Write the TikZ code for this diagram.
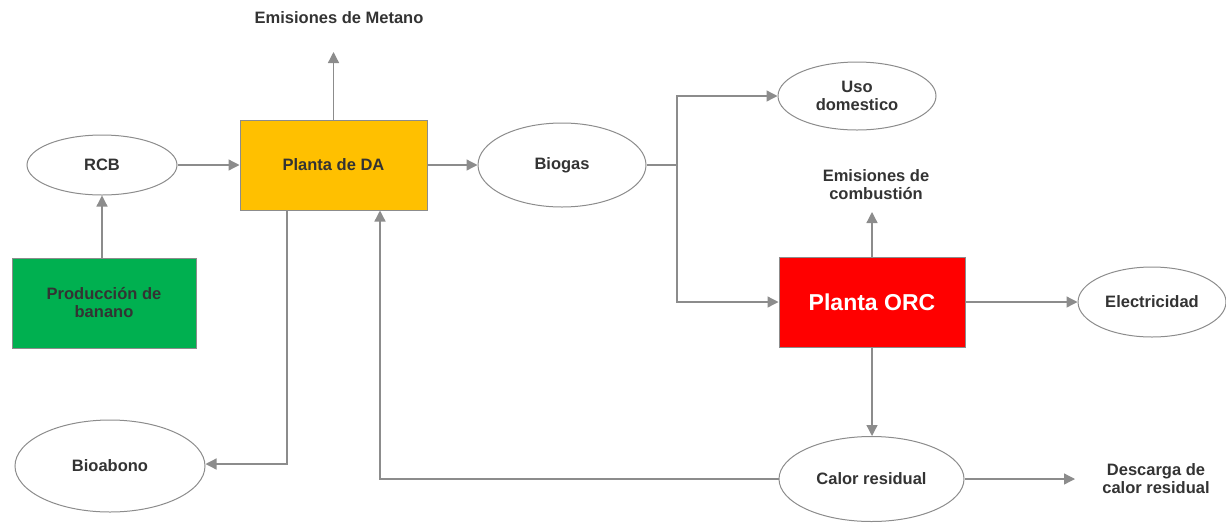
\documentclass[tikz,border=0pt]{standalone}
\usepackage{fontspec}
\setmainfont{Liberation Sans}
\usetikzlibrary{arrows.meta,shapes.geometric}
\definecolor{lc}{HTML}{8C8C8C}
\definecolor{tc}{HTML}{333333}
\definecolor{orangeda}{HTML}{FFC000}
\definecolor{greenb}{HTML}{00B050}
\begin{document}
\begin{tikzpicture}[x=1pt,y=-1pt,
  conn/.style={draw=lc,line width=1.3pt,-{Triangle[length=11pt,width=11pt]}},
  wire/.style={draw=lc,line width=1.3pt},
  ell/.style={ellipse,draw=lc,line width=1pt,fill=white,inner sep=0pt,font=\bfseries\fontsize{16.5}{18}\selectfont,text=tc,align=center},
  box/.style={rectangle,draw=lc,line width=1pt,inner sep=0pt,font=\bfseries\fontsize{16.5}{18}\selectfont,text=tc,align=center},
  lbl/.style={font=\bfseries\fontsize{16.5}{18}\selectfont,text=tc,align=center,inner sep=0pt}]
\useasboundingbox (0,0) rectangle (1226,523);
% nodes
\node[ell,minimum width=150pt,minimum height=60pt] (rcb) at (102,165) {RCB};
\node[box,fill=orangeda,minimum width=187pt,minimum height=90pt] (da) at (333.5,165) {Planta de DA};
\node[ell,minimum width=168pt,minimum height=84pt] (biogas) at (562,165) {Biogas};
\node[box,fill=greenb,minimum width=184pt,minimum height=90pt] (ban) at (104,303) {Producción de\\banano};
\node[ell,minimum width=158pt,minimum height=68pt] (uso) at (857,96) {Uso\\domestico};
\node[box,fill=red,text=white,minimum width=186pt,minimum height=90pt,font=\bfseries\fontsize{23}{26}\selectfont] (orc) at (872,302) {Planta ORC};
\node[ell,minimum width=148pt,minimum height=70pt] (elec) at (1152,302) {Electricidad};
\node[ell,minimum width=185pt,minimum height=85pt] (calor) at (871.5,479) {Calor residual};
\node[ell,minimum width=190pt,minimum height=92pt] (bio) at (110,466) {Bioabono};
\node[lbl] (metano) at (339,18) {Emisiones de Metano};
\node[lbl] (comb) at (876,185) {Emisiones de\\combustión};
\node[lbl] (desc) at (1156,479) {Descarga de\\calor residual};
% helper coordinates
\coordinate (mtop) at (333.5,52);
\coordinate (ctop) at (872,212);
\coordinate (dend) at (1075,479);
\coordinate (split) at (677,165);
% connectors
\draw[conn] (ban.north -| rcb.south) -- (rcb.south);
\draw[conn] (rcb.east) -- (da.west);
\draw[conn] (da.east) -- (biogas.west);
\draw[conn] (da.north) -- (mtop);
\draw[wire] (biogas.east) -- (split);
\draw[conn] (split) |- (uso.west);
\draw[conn] (split) |- (orc.west);
\draw[conn] (orc.north) -- (ctop);
\draw[conn] (orc.east) -- (elec.west);
\draw[conn] (orc.south) -- (calor.north -| orc.south);
\draw[conn] (calor.east) -- (dend);
\draw[conn] (calor.west) -| ([xshift=46.5pt]da.south);
\draw[conn] ([xshift=-46.5pt]da.south) |- (bio.east |- 0,464);
\end{tikzpicture}
\end{document}
